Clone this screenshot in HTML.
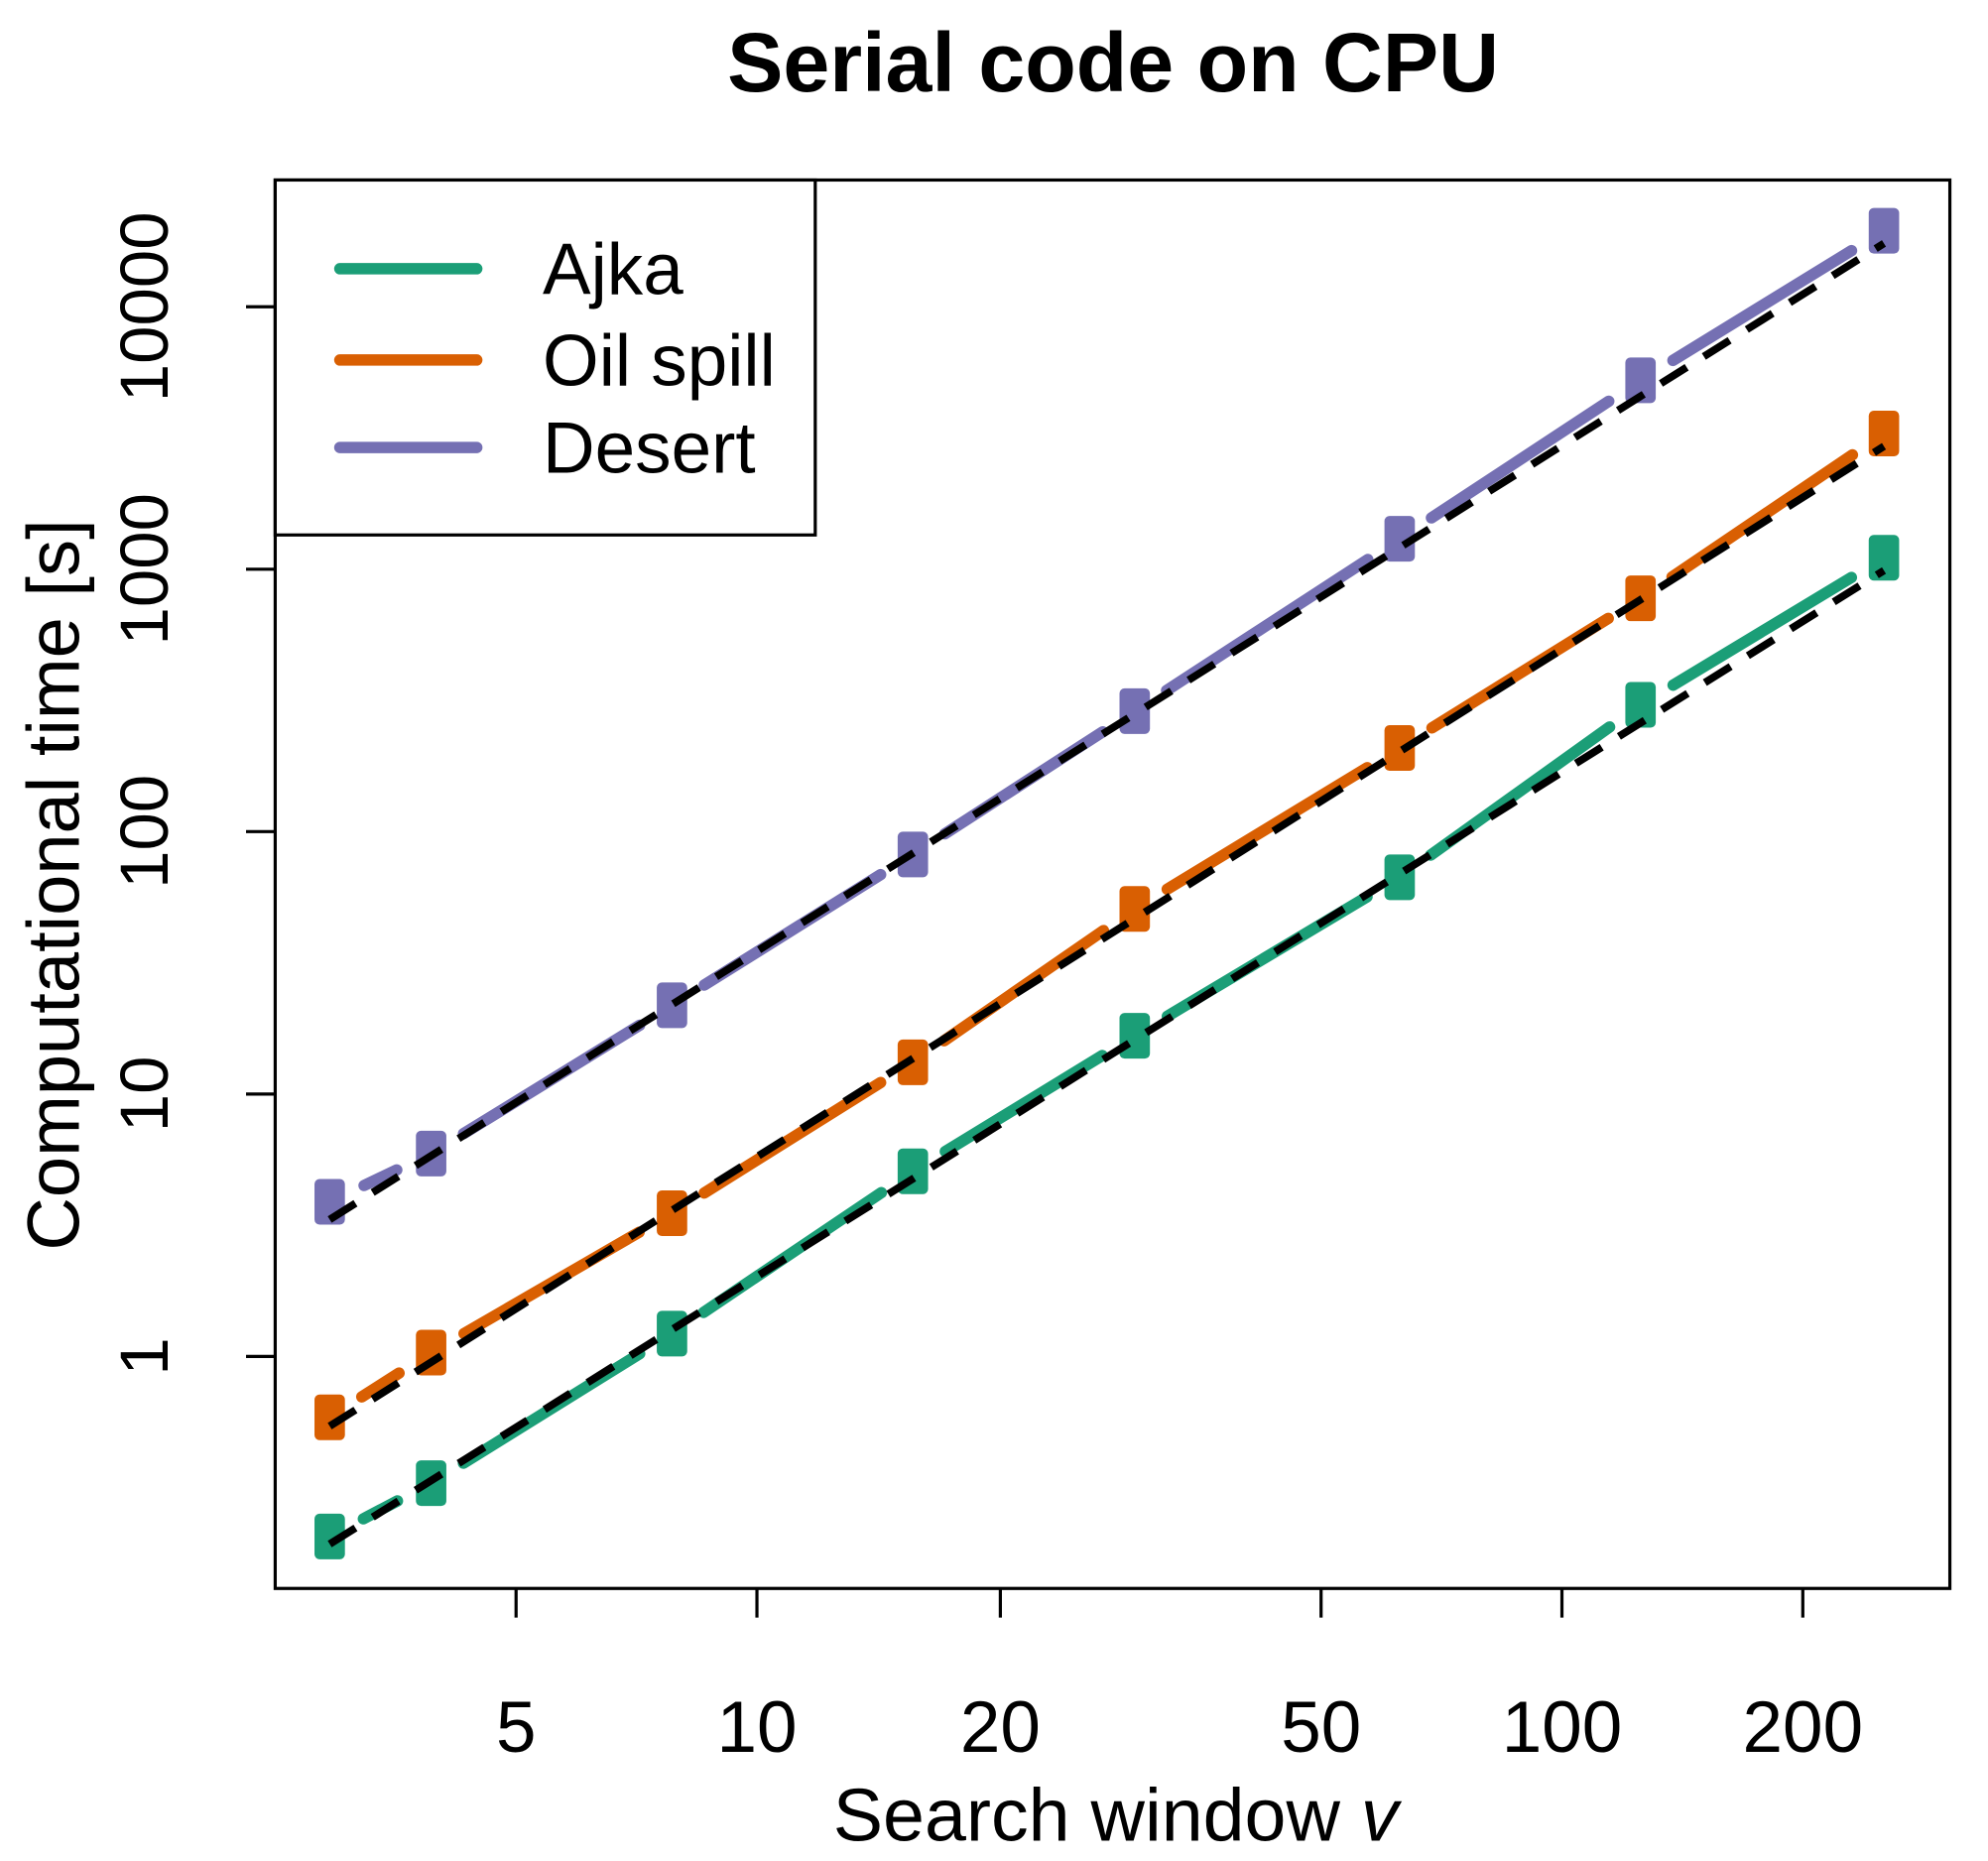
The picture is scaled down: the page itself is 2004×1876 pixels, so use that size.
<!DOCTYPE html>
<html><head><style>html,body{margin:0;padding:0;background:#fff}svg{display:block}</style></head>
<body>
<svg id="s" width="2004" height="1876" viewBox="0 0 1568 1468" xmlns="http://www.w3.org/2000/svg" font-family="Liberation Sans, Arial, sans-serif">
<rect width="1568" height="1468" fill="#fff"/>
<text x="878" y="72" font-size="66" font-weight="bold" text-anchor="middle">Serial code on CPU</text>
<g id="data"></g>
<rect x="217" y="142" width="1321" height="1111" fill="none" stroke="#000" stroke-width="2.5"/>
<g stroke="#000" stroke-width="2.5">
<line x1="217" y1="1070" x2="194" y2="1070"/><line x1="217" y1="863" x2="194" y2="863"/><line x1="217" y1="656" x2="194" y2="656"/><line x1="217" y1="449" x2="194" y2="449"/><line x1="217" y1="242" x2="194" y2="242"/>
<line x1="407" y1="1253" x2="407" y2="1276"/><line x1="597" y1="1253" x2="597" y2="1276"/><line x1="789" y1="1253" x2="789" y2="1276"/><line x1="1042" y1="1253" x2="1042" y2="1276"/><line x1="1232" y1="1253" x2="1232" y2="1276"/><line x1="1422" y1="1253" x2="1422" y2="1276"/>
</g>
<g font-size="54" text-anchor="middle">
<text transform="translate(132,1070) rotate(-90)">1</text>
<text transform="translate(132,863) rotate(-90)">10</text>
<text transform="translate(132,656) rotate(-90)">100</text>
<text transform="translate(132,449) rotate(-90)">1000</text>
<text transform="translate(132,242) rotate(-90)">10000</text>
</g>
<g font-size="57" text-anchor="middle">
<text x="407" y="1382">5</text><text x="597" y="1382">10</text><text x="789" y="1382">20</text><text x="1042" y="1382">50</text><text x="1232" y="1382">100</text><text x="1422" y="1382">200</text>
</g>
<text x="880" y="1452" font-size="59" text-anchor="middle">Search window <tspan font-style="italic">v</tspan></text>
<text transform="translate(62,698) rotate(-90)" font-size="58" text-anchor="middle">Computational time [s]</text>
<rect x="217" y="142" width="426" height="280" fill="#fff" stroke="#000" stroke-width="2.5"/>
<g stroke-width="9" stroke-linecap="round">
<line x1="268" y1="212" x2="376" y2="212" stroke="#1b9e77"/>
<line x1="268" y1="284" x2="376" y2="284" stroke="#d95f02"/>
<line x1="268" y1="353" x2="376" y2="353" stroke="#7570b3"/>
</g>
<g font-size="57"><text x="428" y="232">Ajka</text><text x="428" y="304">Oil spill</text><text x="428" y="373">Desert</text></g>
</svg>
<script>
var xs=[260,340,530,720,895,1104,1294,1486];
var S=[["#1b9e77",[1212,1170,1052,924,817,692,556,440],[1218,450]],
["#d95f02",[1118,1067,957,838,717,590,472,342],[1125,352]],
["#7570b3",[948,910,793,674,561,425,300,182],[962,192]]];
var g=document.getElementById("data"),h="";
S.forEach(function(s){
 var c=s[0],y=s[1];
 for(var i=0;i<7;i++){var dx=xs[i+1]-xs[i],dy=y[i+1]-y[i],L=Math.hypot(dx,dy),gp=30;
  h+='<line x1="'+(xs[i]+dx*gp/L)+'" y1="'+(y[i]+dy*gp/L)+'" x2="'+(xs[i+1]-dx*gp/L)+'" y2="'+(y[i+1]-dy*gp/L)+'" stroke="'+c+'" stroke-width="9" stroke-linecap="round"/>';}
 for(var i=0;i<8;i++) h+='<rect x="'+(xs[i]-12)+'" y="'+(y[i]-18)+'" width="24" height="36" rx="4" fill="'+c+'"/>';
});
S.forEach(function(s){h+='<line x1="260" y1="'+s[2][0]+'" x2="1486" y2="'+s[2][1]+'" stroke="#000" stroke-width="6" stroke-dasharray="24 16"/>';});
g.innerHTML=h;
</script>
</body></html>
